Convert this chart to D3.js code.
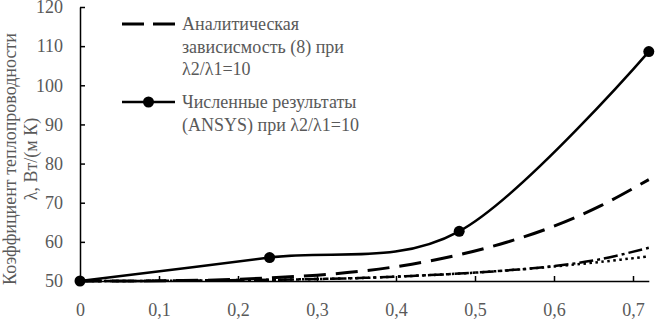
<!DOCTYPE html>
<html>
<head>
<meta charset="utf-8">
<script src="https://cdn.jsdelivr.net/npm/d3@7"></script>
<style>
  html, body { margin: 0; padding: 0; background: #fff; }
  svg text { font-family: "Times New Roman", Tinos, "Liberation Serif", "DejaVu Serif", serif; fill: #595959; }
</style>
</head>
<body>
<div id="container"></div>
<script>
// data
var xNum = [0, 0.24, 0.48, 0.72];
var yNum = [50, 56.0, 62.7, 108.6];

var xCalc = [0, 0.06, 0.12, 0.18, 0.24, 0.30, 0.36, 0.42, 0.48, 0.54, 0.60, 0.66, 0.72];
var yAnalytic = [50, 50.0, 50.1, 50.3, 50.8, 51.5, 52.6, 54.3, 56.7, 59.9, 64.0, 69.3, 75.9];
var yDashDot = [50, 50.0, 50.1, 50.2, 50.3, 50.5, 50.8, 51.3, 51.9, 52.7, 53.8, 55.6, 58.5];
var yDotted  = [50, 50.0, 50.1, 50.2, 50.3, 50.5, 50.8, 51.3, 51.9, 52.7, 53.7, 54.9, 56.3];

var xTicks = [0, 0.1, 0.2, 0.3, 0.4, 0.5, 0.6, 0.7];
var xTickLabels = ["0", "0,1", "0,2", "0,3", "0,4", "0,5", "0,6", "0,7"];
var yTicks = [50, 60, 70, 80, 90, 100, 110, 120];

var legendLines = [
    ["Аналитическая", "зависисмость (8) при", "λ2/λ1=10"],
    ["Численные результаты", "(ANSYS) при λ2/λ1=10"]
];
var yTitle = ["Коэффициент теплопроводности", "λ, Вт/(м К)"];

var W = 655, H = 320,
    fontSize = 18,
    serif = "'Times New Roman', Tinos, 'Liberation Serif', 'DejaVu Serif', serif";

var svg = d3.select("#container")
    .append("svg")
    .attr("width", W)
    .attr("height", H);

var x = d3.scaleLinear().domain([0, 0.72]).range([80, 648.8]);
var y = d3.scaleLinear().domain([50, 120]).range([281, 7]);

// Y axis
var yAxis = svg.append("g")
    .attr("transform", "translate(" + x(0) + ",0)")
    .call(d3.axisLeft(y).tickValues(yTicks).tickSizeInner(-5).tickSizeOuter(0).tickPadding(17));

// X axis
var xAxis = svg.append("g")
    .attr("transform", "translate(0," + y(50) + ")")
    .call(d3.axisBottom(x).tickValues(xTicks)
        .tickFormat(function(d, i) { return xTickLabels[i]; })
        .tickSizeInner(-5).tickSizeOuter(0).tickPadding(22));

[xAxis, yAxis].forEach(function(a) {
    a.attr("font-family", null).attr("font-size", null);
    a.select(".domain").attr("stroke", "#000").attr("stroke-width", 1.5);
    a.selectAll(".tick line").attr("stroke", "#000").attr("stroke-width", 1.5);
    a.selectAll(".tick text")
        .attr("fill", "#595959")
        .style("font-size", fontSize + "px")
        .style("font-family", serif);
});
xAxis.selectAll(".tick").filter(function(d) { return d === 0; }).select("line").remove();
yAxis.selectAll(".tick").filter(function(d) { return d === 50; }).select("line").remove();

// Y title
var title = svg.append("text")
    .attr("transform", "translate(16,159) rotate(-90)")
    .attr("text-anchor", "middle")
    .style("font-family", serif)
    .style("font-size", fontSize + "px");
title.append("tspan").attr("x", 0).attr("dy", 0).text(yTitle[0]);
title.append("tspan").attr("x", 0).attr("dy", 21).text(yTitle[1]);

// series
var smooth = d3.line()
    .x(function(d) { return x(d[0]); })
    .y(function(d) { return y(d[1]); })
    .curve(d3.curveCardinal.tension(0));

var plot = svg.append("g").attr("fill", "none").attr("stroke", "#000");

plot.append("path")
    .datum(d3.zip(xCalc, yDotted))
    .attr("d", smooth)
    .attr("stroke-width", 2.5)
    .attr("stroke-dasharray", "2.5,3.5");

plot.append("path")
    .datum(d3.zip(xCalc, yDashDot))
    .attr("d", smooth)
    .attr("stroke-width", 2.5)
    .attr("stroke-dasharray", "14,4,3,4");

plot.append("path")
    .datum(d3.zip(xCalc, yAnalytic))
    .attr("d", smooth)
    .attr("stroke-width", 3)
    .attr("stroke-dasharray", "22,10");

plot.append("path")
    .datum(d3.zip(xNum, yNum))
    .attr("d", smooth)
    .attr("stroke-width", 2.5);

svg.append("g")
    .selectAll("circle")
    .data(d3.zip(xNum, yNum))
    .enter()
    .append("circle")
        .attr("cx", function(d) { return x(d[0]); })
        .attr("cy", function(d) { return y(d[1]); })
        .attr("r", 5.5)
        .attr("fill", "#000");

// legend
var legend = svg.append("g").attr("transform", "translate(122,0)");
var legendY = [24, 102];

legend.append("line")
    .attr("x1", 0).attr("x2", 53)
    .attr("y1", legendY[0]).attr("y2", legendY[0])
    .attr("stroke", "#000").attr("stroke-width", 3)
    .attr("stroke-dasharray", "22,9");

legend.append("line")
    .attr("x1", 0).attr("x2", 53)
    .attr("y1", legendY[1]).attr("y2", legendY[1])
    .attr("stroke", "#000").attr("stroke-width", 2.5);
legend.append("circle")
    .attr("cx", 26.5).attr("cy", legendY[1]).attr("r", 5.5).attr("fill", "#000");

legendLines.forEach(function(lines, i) {
    var t = legend.append("text")
        .attr("x", 60)
        .attr("y", legendY[i] + 6)
        .style("font-family", serif)
        .style("font-size", fontSize + "px");
    lines.forEach(function(s, j) {
        t.append("tspan").attr("x", 60).attr("dy", j === 0 ? 0 : 22.5).text(s);
    });
});
</script>
</body>
</html>
